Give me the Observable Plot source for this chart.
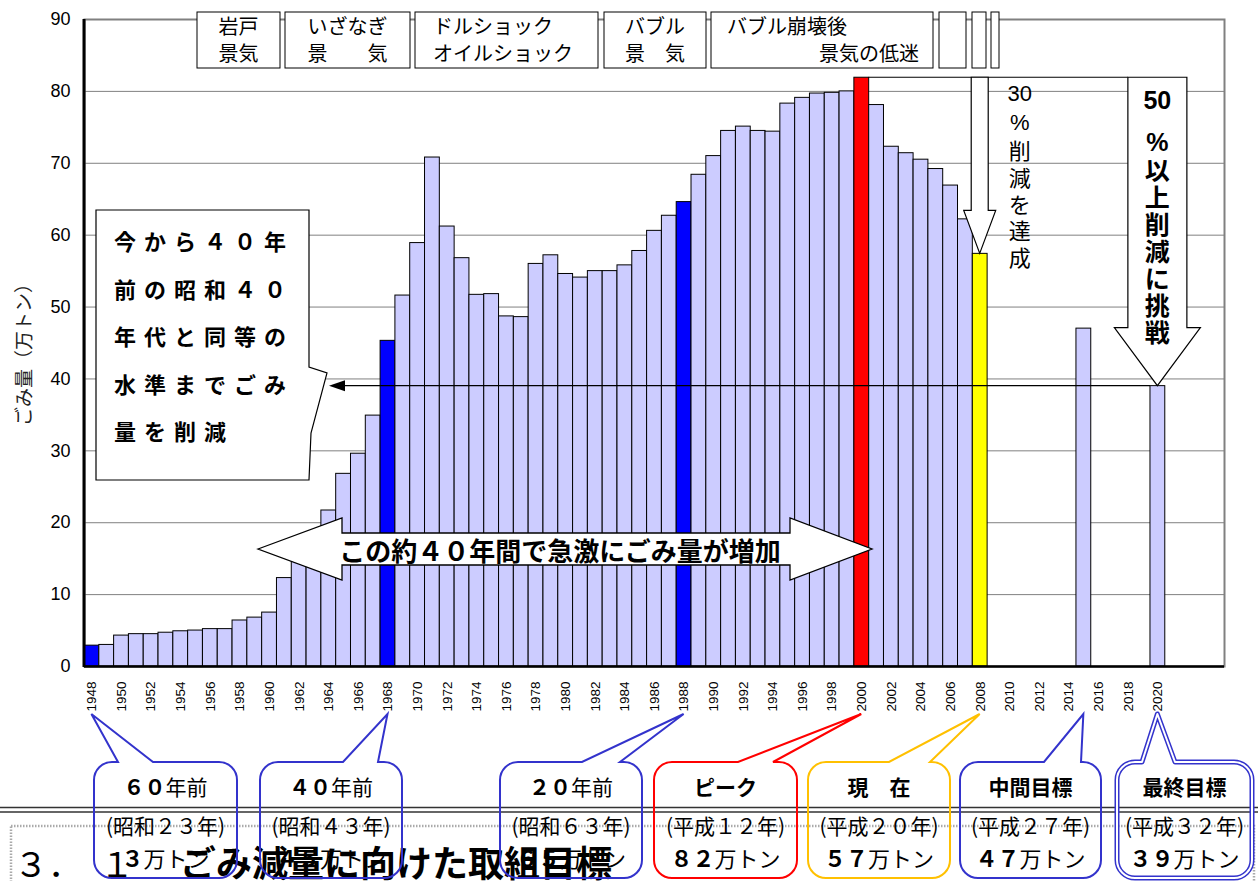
<!DOCTYPE html>
<html><head><meta charset="utf-8">
<script src="https://cdn.jsdelivr.net/npm/d3@7"></script>
<script src="https://cdn.jsdelivr.net/npm/@observablehq/plot@0.6"></script>
<style>
body{margin:0;background:#fff;}
svg{display:block;}
</style></head><body><div id="chart"></div>
<script>
// ---- data ----
const years = [1948,1949,1950,1951,1952,1953,1954,1955,1956,1957,1958,1959,1960,1961,1962,1963,1964,1965,1966,1967,
  1968,1969,1970,1971,1972,1973,1974,1975,1976,1977,1978,1979,1980,1981,1982,1983,1984,1985,1986,1987,
  1988,1989,1990,1991,1992,1993,1994,1995,1996,1997,1998,1999,2000,2001,2002,2003,2004,2005,2006,2007,
  2008,2015,2020];
const values = [2.9,3.0,4.3,4.5,4.5,4.7,4.9,5.0,5.2,5.2,6.4,6.8,7.5,12.3,14.6,17.6,21.7,26.8,29.6,34.9,
  45.3,51.6,58.9,70.8,61.2,56.8,51.7,51.8,48.7,48.6,56.0,57.2,54.6,54.1,55.0,55.0,55.8,57.8,60.6,62.7,
  64.6,68.4,71.0,74.5,75.1,74.5,74.4,78.3,79.1,79.7,79.8,80.0,81.9,78.1,72.3,71.4,70.5,69.2,66.9,62.2,
  57.4,47,39];
const blueYears = [1948,1968,1988];
const peakYear = 2000;
const currentYear = 2008;
const targetYear = 2020;
const targetValue = 39;
const tickYears = [1948,1950,1952,1954,1956,1958,1960,1962,1964,1966,1968,1970,1972,1974,1976,1978,1980,1982,1984,
  1986,1988,1990,1992,1994,1996,1998,2000,2002,2004,2006,2008,2010,2012,2014,2016,2018,2020];
const yTicks = [0,10,20,30,40,50,60,70,80,90];
const yLabel = "ごみ量（万トン）";
const eraLine1 = ["岩戸","いざなぎ","ドルショック","バブル","バブル崩壊後","","",""];
const eraLine2 = ["景気","景　　気","オイルショック","景　気","景気の低迷","","",""];
const calloutYears = [1948,1968,1988,2000,2008,2015,2020];
const calloutNum = ["６０","４０","２０","","","",""];
const calloutTitle = ["年前","年前","年前","ピーク","現　在","中間目標","最終目標"];
const calloutEra = ["(昭和２３年)","(昭和４３年)","(昭和６３年)","(平成１２年)","(平成２０年)","(平成２７年)","(平成３２年)"];
const calloutAmount = ["３","４５","６５","８２","５７","４７","３９"];
const boxText = ["今から４０年","前の昭和４０","年代と同等の","水準までごみ","量を削減"];
const growthText = "この約４０年間で急激にごみ量が増加";
const text30 = ["30","%","削","減","を","達","成"];
const text50 = ["50","%","以","上","削","減","に","挑","戦"];
const heading = ["３．","１","ごみ減量に向けた取組目標"];

// ---- chart ----
const xDomain = d3.range(1948, 2025);
const colorOf = y => blueYears.includes(y) ? "#0000FF" : y === peakYear ? "#FF0000" : y === currentYear ? "#FFFF00" : "#CCCCFF";
const data = years.map((y, i) => ({year: y, value: values[i], fill: colorOf(y)}));
const JP = "'Noto Sans CJK JP', 'Noto Sans', sans-serif";
const LAT = "'Liberation Sans', Arial, sans-serif";

const chart = Plot.plot({
  width: 1258, height: 881,
  marginLeft: 84, marginRight: 34, marginTop: 19, marginBottom: 215,
  style: {fontFamily: LAT, background: "white", color: "black"},
  x: {type: "band", domain: xDomain, padding: 0, axis: null},
  y: {domain: [0, 90]},
  color: {type: "identity"},
  marks: [
    Plot.frame({stroke: "#808080", strokeWidth: 2}),
    Plot.gridY(yTicks.slice(1, -1), {stroke: "#808080", strokeOpacity: 1, strokeWidth: 1}),
    Plot.barY(data, {x: "year", y: "value", fill: "fill", stroke: "#000", strokeWidth: 1, inset: 0}),
    Plot.ruleY([0], {stroke: "#000", strokeWidth: 2.5}),
    Plot.text(tickYears, {x: d => d, text: d => String(d), frameAnchor: "bottom", rotate: -90, textAnchor: "end",
      lineAnchor: "middle", dy: 15, fontSize: 13.5, fontFamily: LAT, fill: "black"}),
    Plot.axisY(yTicks, {tickSize: 0, tickPadding: 14, fontSize: 18, label: null})
  ]
});
document.getElementById("chart").appendChild(chart);

const xs = chart.scale("x"), ys = chart.scale("y");
const bw = xs.bandwidth;
const xL = y => xs.apply(y);
const xC = y => xs.apply(y) + bw / 2;
const yv = v => ys.apply(v);
const svg = d3.select(chart);
const plotLeft = 84, plotTop = 19, plotBottom = 666;

// left axis line
svg.append("line").attr("x1", plotLeft).attr("x2", plotLeft).attr("y1", plotTop).attr("y2", plotBottom + 1)
  .attr("stroke", "#000").attr("stroke-width", 3);

const ann = svg.append("g").attr("text-anchor", "start");

// y label
ann.append("text").attr("transform", `translate(22,350) rotate(-90)`).attr("text-anchor", "middle")
  .attr("dominant-baseline", "central").attr("font-family", JP).attr("font-size", 19).attr("fill", "#222").text(yLabel);

// era boxes
const eraBoxes = [[197,280,"c"],[285,410,"c"],[415,598,"l"],[604,706,"c"],[711,933,"lr"],[939,966,"c"],[972,986,"c"],[991,999,"c"]];
eraBoxes.forEach(([a, b, al], i) => {
  ann.append("rect").attr("x", a).attr("y", 12).attr("width", b - a).attr("height", 56)
    .attr("fill", "#fff").attr("stroke", "#000").attr("stroke-width", 1);
  const t1 = ann.append("text").attr("font-family", JP).attr("font-size", 20).attr("y", 34).attr("text-anchor", "start").text(eraLine1[i]);
  const t2 = ann.append("text").attr("font-family", JP).attr("font-size", 20).attr("y", 61).attr("text-anchor", "start").text(eraLine2[i]);
  if (al === "c") { t1.attr("x", (a + b) / 2).attr("text-anchor", "middle"); t2.attr("x", (a + b) / 2).attr("text-anchor", "middle"); }
  else if (al === "l") { t1.attr("x", a + 18); t2.attr("x", a + 18); }
  else { t1.attr("x", a + 16); t2.attr("x", b - 14).attr("text-anchor", "end"); }
});

// target line at 39 with arrowhead to left box
const y39 = yv(targetValue);
ann.append("line").attr("x1", 343).attr("x2", xL(targetYear)).attr("y1", y39).attr("y2", y39).attr("stroke", "#000").attr("stroke-width", 1.2);
ann.append("path").attr("d", `M329,${y39} L345,${y39 - 5.5} L345,${y39 + 5.5} Z`).attr("fill", "#000");

// left text box with notch
ann.append("path").attr("d", "M96,210 H309 V367 L327,373 L311,433 L309,480 H96 Z")
  .attr("fill", "#fff").attr("stroke", "#000").attr("stroke-width", 1.2);
boxText.forEach((t, i) => {
  ann.append("text").attr("x", 114).attr("y", 240 + i * 47.5).attr("dominant-baseline", "central").attr("text-anchor", "start")
    .attr("font-family", JP).attr("font-weight", "bold").attr("font-size", 22).attr("letter-spacing", 8).text(t);
});

// double-headed growth arrow
{
  const xl = 258, xr = 872, cy = 549, hb = 342, hb2 = 790, ht = 518, hbt = 580, bt = 533, bb = 565;
  ann.append("path").attr("d", `M${xl},${cy} L${hb},${ht} L${hb},${bt} L${hb2},${bt} L${hb2},${ht} L${xr},${cy} L${hb2},${hbt} L${hb2},${bb} L${hb},${bb} L${hb},${hbt} Z`)
    .attr("fill", "#fff").attr("stroke", "#000").attr("stroke-width", 1.3);
  ann.append("text").attr("x", 560).attr("y", cy).attr("text-anchor", "middle").attr("dominant-baseline", "central")
    .attr("font-family", JP).attr("font-weight", "bold").attr("font-size", 26).text(growthText);
}

// horizontal line from peak
const yPeak = yv(values[years.indexOf(peakYear)]);
const c50 = xC(targetYear);
ann.append("line").attr("x1", xL(peakYear) + bw).attr("x2", c50 - 29.5).attr("y1", yPeak).attr("y2", yPeak).attr("stroke", "#000").attr("stroke-width", 1.2);

// 30% arrow
{
  const cx = xC(currentYear), tip = yv(values[years.indexOf(currentYear)]);
  const hh = 43, bwid = 8.5, hw = 16;
  ann.append("path").attr("d", `M${cx - bwid},${yPeak} L${cx + bwid},${yPeak} L${cx + bwid},${tip - hh} L${cx + hw},${tip - hh} L${cx},${tip} L${cx - hw},${tip - hh} L${cx - bwid},${tip - hh} Z`)
    .attr("fill", "#fff").attr("stroke", "#000").attr("stroke-width", 1.2);
  const tx = cx + 40;
  ann.append("text").attr("x", tx).attr("y", yPeak + 24).attr("text-anchor", "middle").attr("font-family", LAT).attr("font-size", 22).text(text30[0]);
  text30.slice(1).forEach((c, i) => {
    ann.append("text").attr("x", tx).attr("y", yPeak + 45 + i * 26.8).attr("text-anchor", "middle").attr("dominant-baseline", "central")
      .attr("font-family", i === 0 ? LAT : JP).attr("font-size", 22).text(c);
  });
}

// 50% arrow
{
  const cx = c50, tip = y39;
  const hh = 58, bwid = 29.5, hw = 43;
  ann.append("path").attr("d", `M${cx - bwid},${yPeak} L${cx + bwid},${yPeak} L${cx + bwid},${tip - hh} L${cx + hw},${tip - hh} L${cx},${tip} L${cx - hw},${tip - hh} L${cx - bwid},${tip - hh} Z`)
    .attr("fill", "#fff").attr("stroke", "#000").attr("stroke-width", 1.2);
  ann.append("text").attr("x", cx).attr("y", yPeak + 32).attr("text-anchor", "middle").attr("font-family", LAT).attr("font-weight", "bold").attr("font-size", 25).text(text50[0]);
  text50.slice(1).forEach((c, i) => {
    ann.append("text").attr("x", cx).attr("y", yPeak + 65 + i * 26.9).attr("text-anchor", "middle").attr("dominant-baseline", "central")
      .attr("font-family", i === 0 ? LAT : JP).attr("font-weight", "bold").attr("font-size", 25).text(c);
  });
}

// bottom slide elements
ann.append("line").attr("x1", 0).attr("x2", 1258).attr("y1", 807.5).attr("y2", 807.5).attr("stroke", "#333").attr("stroke-width", 1.5);
ann.append("line").attr("x1", 0).attr("x2", 1258).attr("y1", 812).attr("y2", 812).attr("stroke", "#333").attr("stroke-width", 1.5);
ann.append("rect").attr("x", 11).attr("y", 826).attr("width", 1243).attr("height", 120).attr("fill", "none")
  .attr("stroke", "#aaa").attr("stroke-width", 2.5).attr("stroke-dasharray", "1.5,1.5");
ann.append("text").attr("x", 14).attr("y", 877).attr("text-anchor", "start").attr("font-family", JP).attr("font-size", 34).text(heading[0]);
ann.append("text").attr("x", 100).attr("y", 877).attr("text-anchor", "start").attr("font-family", JP).attr("font-size", 34).text(heading[1]);
ann.append("text").attr("x", 180).attr("y", 877).attr("text-anchor", "start").attr("font-family", JP).attr("font-weight", "bold").attr("font-size", 36).text(heading[2]);

// callouts
const cBoxes = [[94,237,118,153,"#3333CC"],[260,402,343,378,"#3333CC"],[500,642,582,620,"#3333CC"],[654,797,738,773,"#FF0000"],
  [808,950,889,930,"#FFC000"],[960,1101,1044,1081,"#3333CC"],[1117,1252,1142,1175,"#3333CC"]];
function cpath(x0, x1, y0, y1, r, b0, b1, tx, ty) {
  return `M${x0 + r},${y0} L${b0},${y0} L${tx},${ty} L${b1},${y0} L${x1 - r},${y0} A${r},${r} 0 0 1 ${x1},${y0 + r} L${x1},${y1 - r} A${r},${r} 0 0 1 ${x1 - r},${y1} L${x0 + r},${y1} A${r},${r} 0 0 1 ${x0},${y1 - r} L${x0},${y0 + r} A${r},${r} 0 0 1 ${x0 + r},${y0} Z`;
}
cBoxes.forEach(([a, b, b0, b1, col], i) => {
  const tx = xC(calloutYears[i]), ty = 714;
  const d = cpath(a, b, 762, 878, 18, b0, b1, tx, ty);
  if (i === 6) {
    ann.append("path").attr("d", d).attr("fill", "none").attr("stroke", col).attr("stroke-width", 5).attr("stroke-linejoin", "round");
    ann.append("path").attr("d", d).attr("fill", "none").attr("stroke", "#fff").attr("stroke-width", 2).attr("stroke-linejoin", "round");
  } else {
    ann.append("path").attr("d", d).attr("fill", "none").attr("stroke", col).attr("stroke-width", 2);
  }
  const cx = (a + b) / 2;
  const t1 = ann.append("text").attr("x", cx).attr("y", 795).attr("text-anchor", "middle").attr("font-family", JP).attr("font-size", 21);
  if (calloutNum[i]) {
    t1.append("tspan").attr("font-weight", "bold").text(calloutNum[i]);
    t1.append("tspan").text(calloutTitle[i]);
  } else {
    t1.attr("font-weight", "bold").text(calloutTitle[i]);
  }
  ann.append("text").attr("x", cx).attr("y", 834).attr("text-anchor", "middle").attr("font-family", JP).attr("font-size", 21).text(calloutEra[i]);
  const t3 = ann.append("text").attr("x", cx).attr("y", 867).attr("text-anchor", "middle").attr("font-family", JP).attr("font-size", 22);
  t3.append("tspan").attr("font-weight", "bold").text(calloutAmount[i]);
  t3.append("tspan").text("万トン");
});
</script></body></html>
